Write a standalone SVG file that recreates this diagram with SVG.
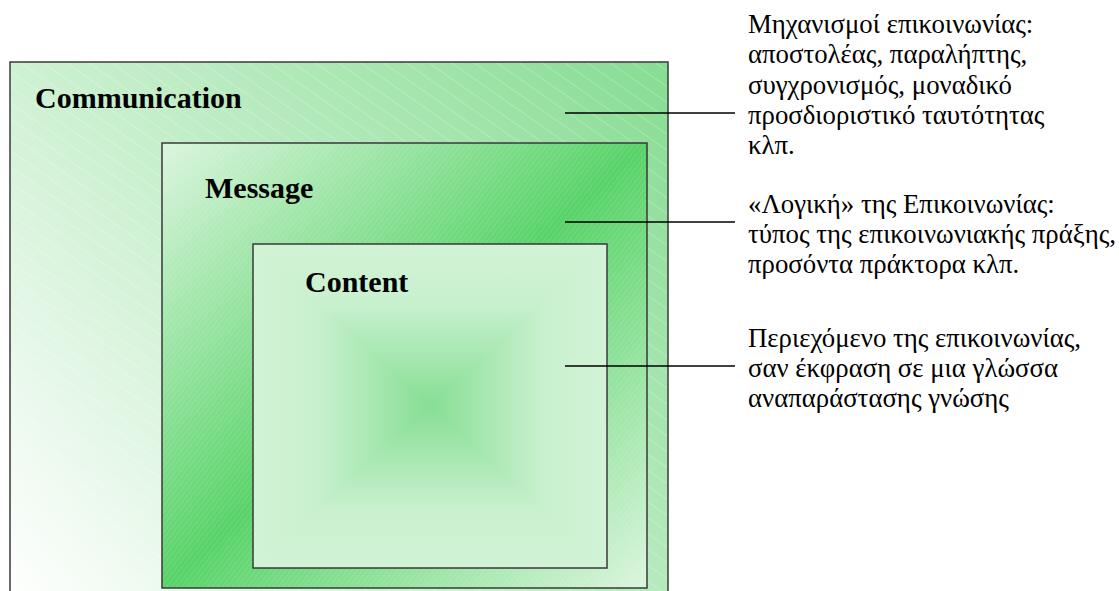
<svg xmlns="http://www.w3.org/2000/svg" width="1119" height="591" viewBox="0 0 1119 591">
  <style>
    .box { stroke: #3a3a3a; stroke-width: 1.5; }
    .layer-title { font-family: "Liberation Serif", "Times New Roman", serif; font-weight: bold; font-size: 30px; fill: #000; }
    .note { font-family: "Liberation Serif", "Times New Roman", serif; font-size: 26.8px; fill: #000; }
    .leader { stroke: #000; stroke-width: 1.5; fill: none; }
  </style>
  <defs>
    <!-- outer layer: white at bottom-left fading to green at top-right -->
    <linearGradient id="gradOuter" gradientUnits="userSpaceOnUse" x1="10" y1="600" x2="668" y2="62">
      <stop offset="0" stop-color="#ffffff"/>
      <stop offset="1" stop-color="#86dc92"/>
    </linearGradient>
    <!-- middle layer: light corners top-left / bottom-right, strong green across the other diagonal -->
    <linearGradient id="gradMessage" x1="0" y1="0" x2="1" y2="1">
      <stop offset="0" stop-color="#dbf5de"/>
      <stop offset="0.5" stop-color="#58d368"/>
      <stop offset="1" stop-color="#dbf5de"/>
    </linearGradient>
    <!-- inner layer: rectangular gradient, dark in the centre -->
    <linearGradient id="gradContentV" gradientUnits="userSpaceOnUse" x1="0" y1="244" x2="0" y2="568">
      <stop offset="0" stop-color="#d2f3d6"/>
      <stop offset="0.18" stop-color="#c9f0ce"/>
      <stop offset="0.35" stop-color="#a6e7b0"/>
      <stop offset="0.5" stop-color="#86de93"/>
      <stop offset="0.65" stop-color="#a6e7b0"/>
      <stop offset="0.82" stop-color="#c9f0ce"/>
      <stop offset="1" stop-color="#d2f3d6"/>
    </linearGradient>
    <linearGradient id="gradContentH" gradientUnits="userSpaceOnUse" x1="253" y1="0" x2="607" y2="0">
      <stop offset="0" stop-color="#d2f3d6"/>
      <stop offset="0.18" stop-color="#c9f0ce"/>
      <stop offset="0.35" stop-color="#a6e7b0"/>
      <stop offset="0.5" stop-color="#86de93"/>
      <stop offset="0.65" stop-color="#a6e7b0"/>
      <stop offset="0.82" stop-color="#c9f0ce"/>
      <stop offset="1" stop-color="#d2f3d6"/>
    </linearGradient>
    <!-- fine hatch textures -->
    <pattern id="hatchOuter" patternUnits="userSpaceOnUse" width="14" height="13" patternTransform="rotate(35)">
      <line x1="0" y1="0.5" x2="14" y2="0.5" stroke="#ffffff" stroke-opacity="0.25" stroke-width="0.9"/>
    </pattern>
    <pattern id="hatchMessage" patternUnits="userSpaceOnUse" width="8" height="4" patternTransform="rotate(-52)">
      <line x1="0" y1="0.5" x2="8" y2="0.5" stroke="#ffffff" stroke-opacity="0.12" stroke-width="0.9"/>
    </pattern>
  </defs>

  <g id="communication">
    <rect x="10" y="62" width="658" height="570" fill="url(#gradOuter)"/>
    <rect x="10" y="62" width="658" height="570" fill="url(#hatchOuter)" class="box"/>
    <text class="layer-title" x="35" y="108">Communication</text>
  </g>

  <g id="message">
    <rect x="162" y="143" width="485" height="445" fill="url(#gradMessage)"/>
    <rect x="162" y="143" width="485" height="445" fill="url(#hatchMessage)" class="box"/>
    <text class="layer-title" x="205" y="198">Message</text>
  </g>

  <g id="content">
    <rect x="253" y="244" width="354" height="324" fill="url(#gradContentV)"/>
    <polygon points="253,244 253,568 430,406" fill="url(#gradContentH)"/>
    <polygon points="607,244 607,568 430,406" fill="url(#gradContentH)"/>
    <rect x="253" y="244" width="354" height="324" fill="none" class="box"/>
    <text class="layer-title" x="305" y="292">Content</text>
  </g>

  <g id="connectors">
    <line class="leader" x1="565" y1="113" x2="735" y2="113"/>
    <line class="leader" x1="565" y1="222" x2="735" y2="222"/>
    <line class="leader" x1="565" y1="366" x2="735" y2="366"/>
  </g>

  <g id="note-communication">
    <text class="note" x="748" y="33">Μηχανισμοί επικοινωνίας:</text>
    <text class="note" x="748" y="63">αποστολέας, παραλήπτης,</text>
    <text class="note" x="748" y="94">συγχρονισμός, μοναδικό</text>
    <text class="note" x="748" y="124">προσδιοριστικό ταυτότητας</text>
    <text class="note" x="748" y="154">κλπ.</text>
  </g>

  <g id="note-message">
    <text class="note" x="748" y="213">«Λογική» της Επικοινωνίας:</text>
    <text class="note" x="748" y="243">τύπος της επικοινωνιακής πράξης,</text>
    <text class="note" x="748" y="273">προσόντα πράκτορα κλπ.</text>
  </g>

  <g id="note-content">
    <text class="note" x="748" y="347">Περιεχόμενο της επικοινωνίας,</text>
    <text class="note" x="748" y="377">σαν έκφραση σε μια γλώσσα</text>
    <text class="note" x="748" y="407">αναπαράστασης γνώσης</text>
  </g>
</svg>
